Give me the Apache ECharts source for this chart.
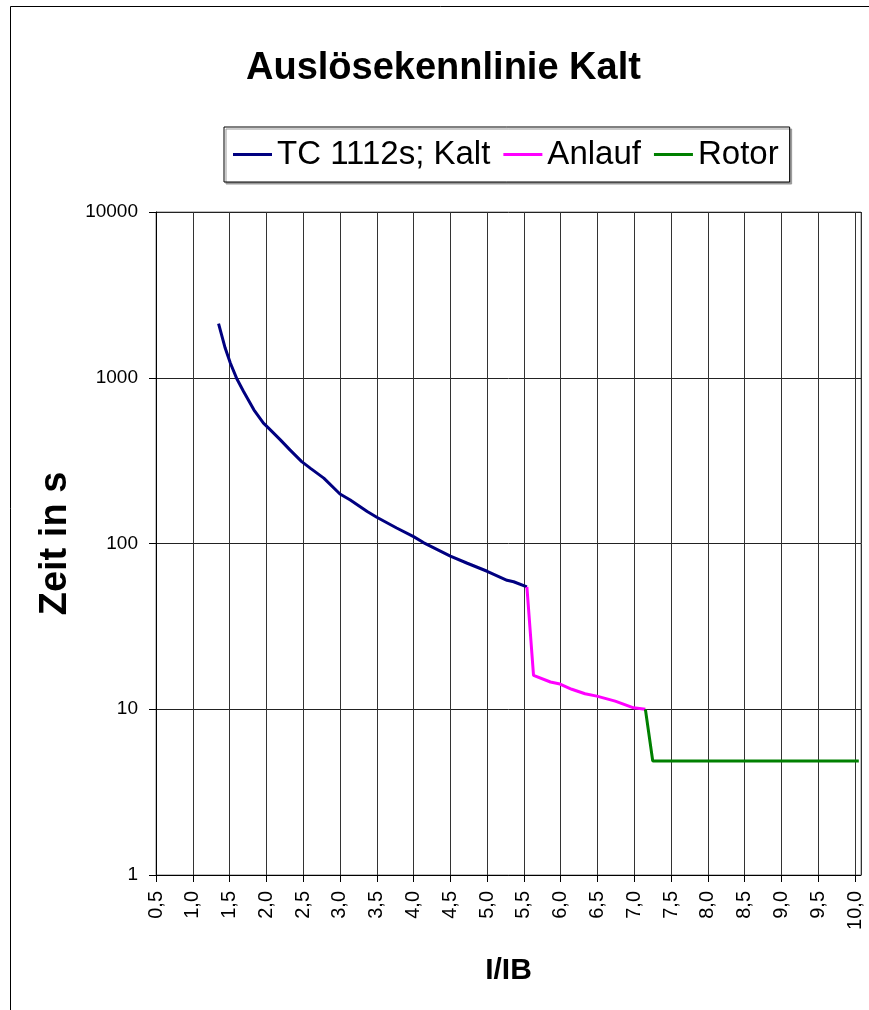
<!DOCTYPE html>
<html><head><meta charset="utf-8">
<script src="https://cdn.jsdelivr.net/npm/echarts@6/dist/echarts.min.js"></script>
<style>html,body{margin:0;padding:0;background:#fff}#c{width:869px;height:1010px}</style>
</head><body><div id="c"></div>
<script>
const blueX = [1.35,1.44,1.51,1.60,1.69,1.83,1.96,2.03,2.19,2.32,2.48,2.60,2.78,3.00,3.14,3.37,3.50,3.77,4.00,4.14,4.50,4.73,5.00,5.27,5.36,5.54];
const blueY = [2120,1511,1228,982,827,641,532,497,422,367,312,284,248,199,183,156,144,124,110,101,84,76,68,60,58.8,54.8];
const anlaufX = [5.54,5.63,5.86,5.99,6.15,6.33,6.49,6.74,6.99,7.15];
const anlaufY = [54.8,16.0,14.6,14.2,13.2,12.4,12.0,11.2,10.2,10.0];
const rotorX = [7.15,7.25,10.05];
const rotorY = [10.0,4.87,4.87];
const seriesNames = ['TC 1112s; Kalt','Anlauf','Rotor'];
const seriesColors = ['#000080','#ff00ff','#008000'];
const titleText = 'Auslösekennlinie Kalt';
const xName = 'I/IB';
const yName = 'Zeit in s';

const FONT = "'Liberation Sans', Arial, sans-serif";
const zip = (xs, ys) => xs.map((x, i) => [x, ys[i]]);
const seriesData = [zip(blueX, blueY), zip(anlaufX, anlaufY), zip(rotorX, rotorY)];

const chart = echarts.init(document.getElementById('c'), null, {renderer: 'canvas'});
chart.setOption({
  animation: false,
  backgroundColor: '#fff',
  textStyle: {fontFamily: FONT},
  graphic: [{
    type: 'rect', silent: true, z: -1,
    shape: {x: 10.5, y: 6.5, width: 900, height: 1100},
    style: {fill: 'none', stroke: '#000', lineWidth: 1}
  }],
  title: {
    text: titleText, left: 246, top: 50, padding: 0,
    textStyle: {fontSize: 38, fontWeight: 'bold', color: '#000', fontFamily: FONT}
  },
  legend: {
    left: 224, top: 127,
    padding: [11, 11, 11, 9],
    icon: 'rect',
    itemWidth: 39, itemHeight: 3, itemGap: 13,
    backgroundColor: '#fff',
    borderColor: '#000', borderWidth: 1,
    shadowColor: '#999', shadowBlur: 0, shadowOffsetX: 2, shadowOffsetY: 2,
    textStyle: {fontSize: 33, color: '#000', fontFamily: FONT},
    data: seriesNames
  },
  grid: {
    left: 156, right: 8, top: 212, bottom: 135,
    show: true, borderColor: '#808080', borderWidth: 1, backgroundColor: '#fff'
  },
  xAxis: {
    type: 'value', min: 0.5, max: 10.08, interval: 0.5,
    name: xName, nameLocation: 'middle', nameGap: 81,
    nameTextStyle: {fontSize: 30, fontWeight: 'bold', color: '#000', fontFamily: FONT},
    axisLine: {show: true, lineStyle: {color: '#000', width: 1}},
    axisTick: {show: true, length: 7, lineStyle: {color: '#000'}},
    axisLabel: {
      rotate: 90, margin: 16, fontSize: 20, color: '#000', fontFamily: FONT,
      showMaxLabel: false,
      formatter: v => (Math.abs(v * 2 - Math.round(v * 2)) < 1e-6) ? v.toFixed(1).replace('.', ',') : ''
    },
    splitLine: {show: true, lineStyle: {color: '#333', width: 1}}
  },
  yAxis: {
    type: 'log', logBase: 10, min: 1, max: 10000,
    name: yName, nameLocation: 'middle', nameGap: 68, nameRotate: 90,
    nameTextStyle: {fontSize: 38, fontWeight: 'bold', color: '#000', fontFamily: FONT},
    axisLine: {show: true, lineStyle: {color: '#000', width: 1}},
    axisTick: {show: true, length: 7, lineStyle: {color: '#000'}},
    axisLabel: {margin: 18, fontSize: 19, color: '#000', fontFamily: FONT,
      formatter: v => String(Math.round(v))},
    splitLine: {show: true, lineStyle: {color: '#222', width: 1}}
  },
  series: seriesNames.map((n, i) => ({
    name: n, type: 'line', data: seriesData[i],
    symbol: 'none', smooth: false,
    lineStyle: {color: seriesColors[i], width: 3},
    itemStyle: {color: seriesColors[i]}
  }))
});
</script></body></html>
